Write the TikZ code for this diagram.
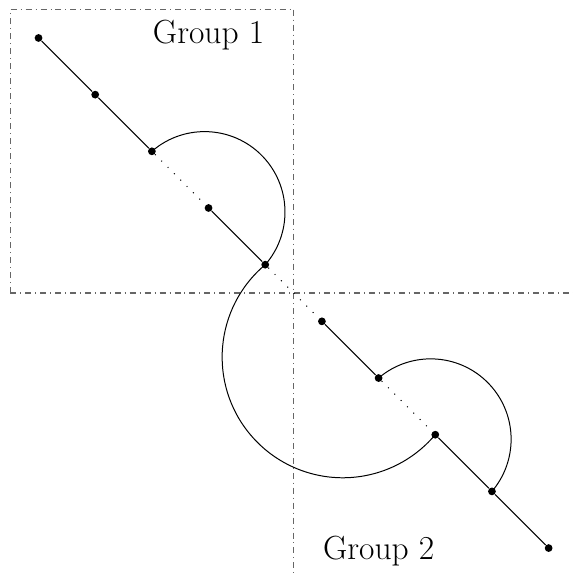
\documentclass[tikz,border=0pt]{standalone}
\usepackage{tikz}
\usetikzlibrary{positioning}
\definecolor{guide}{HTML}{666666}

\begin{document}
\begin{tikzpicture}[x=1cm,y=1cm,line width=0.5pt,
    dot/.style={circle,fill=black,inner sep=0pt,minimum size=3.9pt},
    guideline/.style={dash dot,guide,line width=0.6pt},
    gap/.style={loosely dotted,line width=0.5pt},
    label/.style={font=\fontsize{16.8}{20}\selectfont}]
  \useasboundingbox (-5.18,-4.94) rectangle (4.92,5.17);
  \draw[guideline] (-5,0) -- (-5,5) -- (0,5);
  \draw[guideline] (-5,0) -- (5,0);
  \draw[guideline] (0,5) -- (0,-5);
  \foreach \i in {1,...,10}
    \node[dot] (d\i) at ({\i-5.5},{5.5-\i}) {};
  \draw (d1) -- (d2) -- (d3);
  \draw (d4) -- (d5);
  \draw (d6) -- (d7);
  \draw (d8) -- (d9) -- (d10);
  \draw[gap] (d3) -- (d4);
  \draw[gap] (d5) -- (d6);
  \draw[gap] (d7) -- (d8);
  \draw (d3.center) arc[start angle=131, end angle=-41, radius=1.418];
  \draw (d5.center) arc[start angle=130, end angle=320, radius=2.129];
  \draw (d7.center) arc[start angle=130.4, end angle=-40.4, radius=1.4187];
  \node[label] (g1) at (-1.5,4.55) {Group 1};
  \node[label] (g2) at (1.5,-4.55) {Group 2};
\end{tikzpicture}
\end{document}
